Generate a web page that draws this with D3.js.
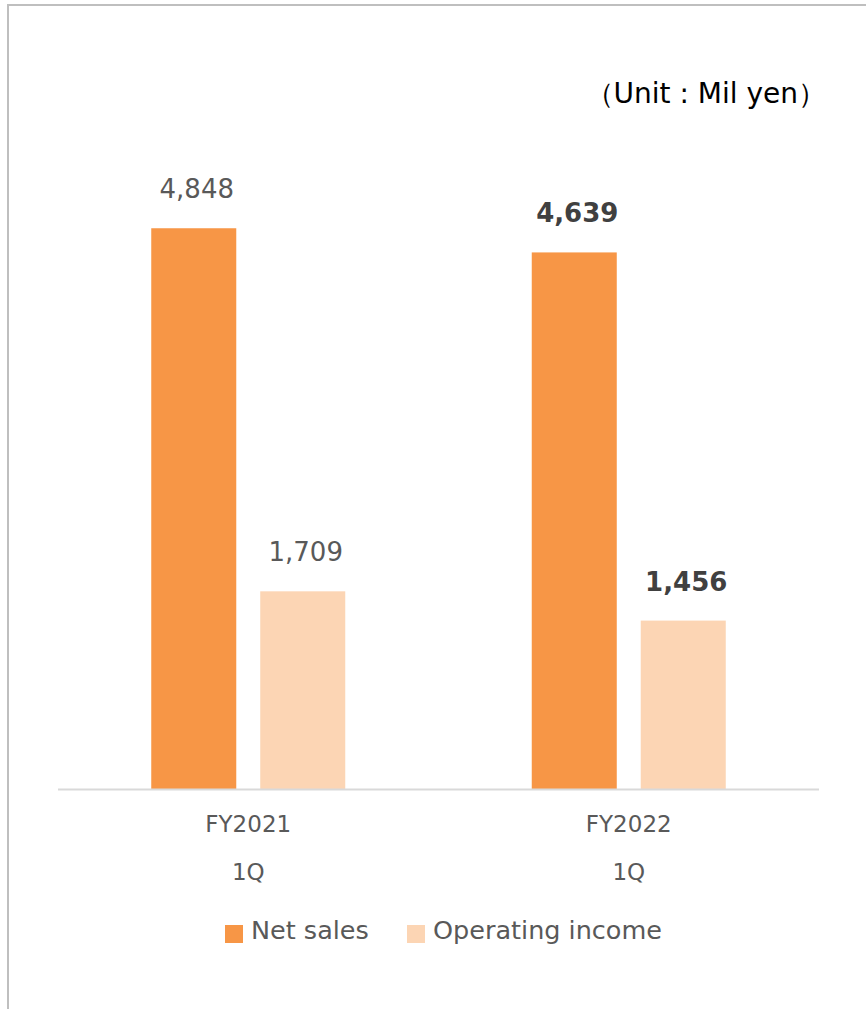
<!DOCTYPE html>
<html>
<head>
<meta charset="utf-8">
<script src="https://cdn.jsdelivr.net/npm/d3@7"></script>
<style>
  body { margin: 0; background: #fff; }
  svg text { font-family: "DejaVu Sans", Verdana, sans-serif; }
</style>
</head>
<body>
<svg id="chart" width="866" height="1009"></svg>
<script>
// chart data
const periods = ['FY2021', 'FY2022'];
const periodSub = ['1Q', '1Q'];
const seriesNames = ['Net sales', 'Operating income'];
const netSales = [4848, 4639];
const operatingIncome = [1709, 1456];
const boldPeriod = [false, true]; // current period labels are bold
const unitLabel = '（Unit : Mil yen）';

const COLORS = ['#f79646', '#fcd5b4'];

const W = 866, H = 1009;
const svg = d3.select('#chart');

// frame (top and left edge only)
svg.append('line').attr('x1', 7).attr('x2', W).attr('y1', 5).attr('y2', 5)
  .attr('stroke', '#bfbfbf').attr('stroke-width', 2);
svg.append('line').attr('x1', 8).attr('x2', 8).attr('y1', 4).attr('y2', H)
  .attr('stroke', '#bfbfbf').attr('stroke-width', 2);

const x0 = d3.scaleBand().domain(periods).range([58, 819]);
const x1 = d3.scaleBand().domain(seriesNames).range([0, 194]).paddingInner(0.22);
const y = d3.scaleLinear().domain([0, 6000]).range([789, 95]);

const rows = periods.map((p, i) => ({
  period: p, sub: periodSub[i], bold: boldPeriod[i],
  vals: [netSales[i], operatingIncome[i]]
}));

const groups = svg.selectAll('g.grp')
  .data(rows)
  .join('g')
  .attr('class', 'grp')
  .attr('transform', d => `translate(${x0(d.period) + x0.bandwidth() / 2 - 97},0)`);

groups.selectAll('rect')
  .data(d => d.vals.map((v, j) => ({ v, name: seriesNames[j], j, bold: d.bold })))
  .join('rect')
  .attr('x', d => x1(d.name))
  .attr('width', x1.bandwidth())
  .attr('y', d => y(d.v))
  .attr('height', d => y(0) - y(d.v))
  .attr('fill', d => COLORS[d.j]);

// value labels sit a little right of bar centre, as in the source
groups.selectAll('text.val')
  .data(d => d.vals.map((v, j) => ({ v, name: seriesNames[j], j, bold: d.bold })))
  .join('text')
  .attr('class', 'val')
  .attr('x', d => x1(d.name) + x1.bandwidth() / 2 + 3)
  .attr('y', d => y(d.v) - 30)
  .attr('text-anchor', 'middle')
  .attr('font-size', 26)
  .attr('font-weight', d => d.bold ? 'bold' : 'normal')
  .attr('fill', d => d.bold ? '#404040' : '#595959')
  .text(d => d3.format(',')(d.v));

// baseline
svg.append('line')
  .attr('x1', 58).attr('x2', 819)
  .attr('y1', y(0) + 0.5).attr('y2', y(0) + 0.5)
  .attr('stroke', '#d9d9d9').attr('stroke-width', 2);

// category labels
const cat = svg.selectAll('g.cat')
  .data(rows)
  .join('g')
  .attr('class', 'cat')
  .attr('transform', d => `translate(${x0(d.period) + x0.bandwidth() / 2},0)`);
cat.append('text')
  .attr('y', 832).attr('text-anchor', 'middle')
  .attr('font-size', 23).attr('fill', '#595959')
  .text(d => d.period);
cat.append('text')
  .attr('y', 880).attr('text-anchor', 'middle')
  .attr('font-size', 23).attr('fill', '#595959')
  .text(d => d.sub);

// unit label
svg.append('text')
  .attr('x', 826).attr('y', 103)
  .attr('text-anchor', 'end')
  .attr('font-size', 28).attr('fill', '#000')
  .text(unitLabel);

// legend
const legendX = [225, 407];
const leg = svg.selectAll('g.leg')
  .data(seriesNames)
  .join('g')
  .attr('class', 'leg')
  .attr('transform', (d, i) => `translate(${legendX[i]},925)`);
leg.append('rect').attr('width', 18).attr('height', 18)
  .attr('fill', (d, i) => COLORS[i]);
leg.append('text').attr('x', 26).attr('y', 14)
  .attr('font-size', 25.5).attr('fill', '#595959')
  .text(d => d);
</script>
</body>
</html>
